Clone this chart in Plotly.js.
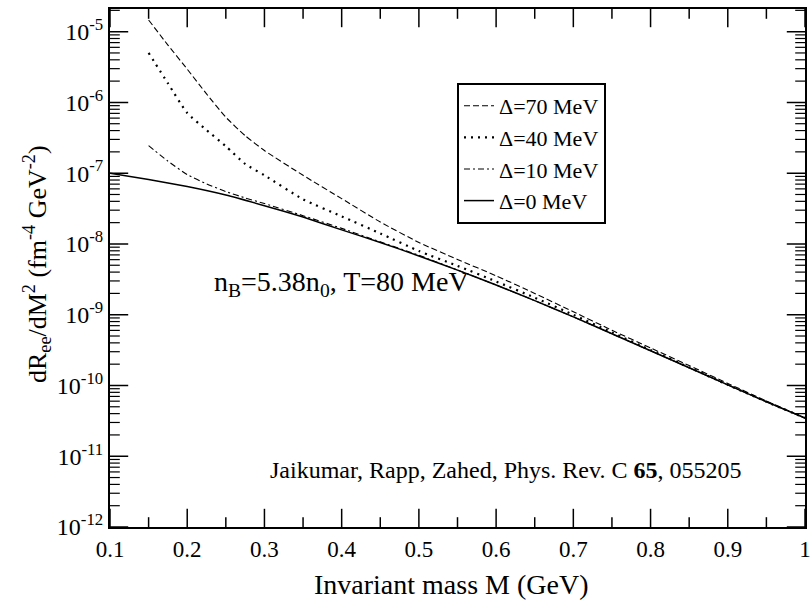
<!DOCTYPE html>
<html>
<head>
<meta charset="utf-8">
<script src="https://cdn.plot.ly/plotly-3.0.1.min.js"></script>
<style>html,body{margin:0;padding:0;background:#fff;}#chart{width:811px;height:602px;}</style>
</head>
<body>
<div id="chart"></div>
<script>
// Invariant mass M (GeV)
const massSolid = [0.10,0.15,0.20,0.25,0.30,0.35,0.40,0.45,0.50,0.55,0.60,0.65,0.70,0.75,0.80,0.85,0.90,0.95,1.00];
const massGap   = [0.15,0.175,0.20,0.225,0.25,0.275,0.30,0.35,0.40,0.45,0.50,0.55,0.60,0.65,0.70,0.75,0.80,0.85,0.90,0.95,1.00];

// dR_ee/dM^2 (fm^-4 GeV^-2)
const rateDelta0  = [1.00e-7,8.13e-8,6.46e-8,4.90e-8,3.47e-8,2.40e-8,1.58e-8,1.05e-8,6.76e-9,4.27e-9,2.63e-9,1.58e-9,9.33e-10,5.37e-10,3.09e-10,1.78e-10,1.02e-10,5.89e-11,3.47e-11];
const rateDelta10 = [2.45e-7,1.48e-7,9.55e-8,7.08e-8,5.50e-8,4.47e-8,3.72e-8,2.51e-8,1.66e-8,1.07e-8,6.92e-9,4.27e-9,2.63e-9,1.58e-9,9.33e-10,5.37e-10,3.09e-10,1.78e-10,1.02e-10,5.89e-11,3.47e-11];
const rateDelta40 = [5.01e-6,1.86e-6,7.08e-7,4.07e-7,2.40e-7,1.35e-7,9.33e-8,4.27e-8,2.45e-8,1.41e-8,7.94e-9,4.90e-9,2.95e-9,1.74e-9,1.00e-9,5.62e-10,3.16e-10,1.80e-10,1.02e-10,5.89e-11,3.47e-11];
const rateDelta70 = [1.46e-5,6.46e-6,2.95e-6,1.32e-6,6.17e-7,3.39e-7,2.09e-7,9.33e-8,4.37e-8,2.04e-8,1.05e-8,6.03e-9,3.55e-9,2.00e-9,1.10e-9,6.03e-10,3.39e-10,1.91e-10,1.07e-10,6.03e-11,3.47e-11];

const seriesNames = ["\u0394=70 MeV","\u0394=40 MeV","\u0394=10 MeV","\u0394=0 MeV"];
const seriesDash  = ["6px,3px","2px,5px","6px,3px,2px,3px","solid"];
const seriesWidth = [1.1, 2.2, 1.1, 1.5];

// tick labels / positions
const xTickVals = [0.1,0.2,0.3,0.4,0.5,0.6,0.7,0.8,0.9,1.0];
const xTickText = ["0.1","0.2","0.3","0.4","0.5","0.6","0.7","0.8","0.9","1"];
const xMinorVals = [0.15,0.25,0.35,0.45,0.55,0.65,0.75,0.85,0.95];
const yTickVals = [1e-12,1e-11,1e-10,1e-9,1e-8,1e-7,1e-6,1e-5];
const yTickText = ["10<sup>-12</sup>","10<sup>-11</sup>","10<sup>-10</sup>","10<sup>-9</sup>","10<sup>-8</sup>","10<sup>-7</sup>","10<sup>-6</sup>","10<sup>-5</sup>"];
const yMinorMantissa = [2,3,4,5,6,7,8,9];
const yMinorVals = [];
yTickVals.forEach(d => yMinorMantissa.forEach(m => { if (m * d < 2.1e-5) yMinorVals.push(m * d); }));

// axis ranges
const xRange = [0.1, 1.0];
const yLogRange = [-12, -4.68];

const serif = "Liberation Serif";
const W = 811, H = 602, ML = 110, MR = 6, MT = 9, MB = 75;
const PW = W - ML - MR, PH = H - MT - MB;

const traces = [
  {x: massGap, y: rateDelta70, name: seriesNames[0]},
  {x: massGap, y: rateDelta40, name: seriesNames[1]},
  {x: massGap, y: rateDelta10, name: seriesNames[2]},
  {x: massSolid, y: rateDelta0, name: seriesNames[3]}
].map((t, i) => Object.assign(t, {
  type: "scatter", mode: "lines", showlegend: true, hoverinfo: "skip",
  line: {color: "#000", width: seriesWidth[i], dash: seriesDash[i], shape: "spline", smoothing: 0.5}
}));

// inside tick marks: line markers centred on the frame, the outer half clipped by the plot area
const yBottom = Math.pow(10, yLogRange[0]), yTopEdge = Math.pow(10, yLogRange[1]);
function tickMarks(xs, ys, symbol, size, width) {
  return {type: "scatter", mode: "markers", x: xs, y: ys, showlegend: false, hoverinfo: "skip",
          cliponaxis: true,
          marker: {symbol: symbol, size: size, color: "#000", line: {color: "#000", width: width}}};
}
[yBottom, yTopEdge].forEach(edge => {
  traces.push(tickMarks(xTickVals, xTickVals.map(() => edge), "line-ns-open", 26, 1.5));
  traces.push(tickMarks(xMinorVals, xMinorVals.map(() => edge), "line-ns-open", 14, 1.5));
});
xRange.forEach(edge => {
  traces.push(tickMarks(yTickVals.map(() => edge), yTickVals, "line-ew-open", 26, 1.5));
  traces.push(tickMarks(yMinorVals.map(() => edge), yMinorVals, "line-ew-open", 14, 1.2));
});

const annotations = [
  {xref: "paper", yref: "paper", x: (212 - ML) / PW, y: (H - MB - 283) / PH, xanchor: "left", yanchor: "middle",
   text: "n<sub>B</sub>=5.38n<sub>0</sub>, T=80 MeV", showarrow: false,
   font: {family: serif, size: 28, color: "#000"}},
  {xref: "paper", yref: "paper", x: (505 - ML) / PW, y: (H - MB - 470) / PH, xanchor: "center", yanchor: "middle",
   text: "Jaikumar, Rapp, Zahed, Phys. Rev. C <b>65</b>, 055205", showarrow: false,
   font: {family: serif, size: 24, color: "#000"}},
  {xref: "paper", yref: "paper", x: (37 - ML) / PW, y: (H - MB - 264) / PH, xanchor: "center", yanchor: "middle",
   textangle: -90, showarrow: false,
   text: "dR<sub>ee</sub>/dM<sup>2</sup> (fm<sup>-4</sup> GeV<sup>-2</sup>)",
   font: {family: serif, size: 26, color: "#000"}},
  {xref: "paper", yref: "paper", x: (451 - ML) / PW, y: (H - MB - 584) / PH, xanchor: "center", yanchor: "middle",
   showarrow: false, text: "Invariant mass M (GeV)",
   font: {family: serif, size: 28, color: "#000"}}
];

const axisCommon = {
  showgrid: false, zeroline: false,
  showline: true, linecolor: "black", linewidth: 2, mirror: true,
  ticks: "", tickmode: "array"
};

const layout = {
  width: W, height: H,
  margin: {l: ML, r: MR, t: MT, b: MB},
  paper_bgcolor: "white", plot_bgcolor: "white",
  font: {family: serif, color: "#000", size: 22},
  showlegend: true,
  legend: {
    x: (457 - ML) / PW, y: (H - MB - 83) / PH, xanchor: "left", yanchor: "top",
    bgcolor: "white", bordercolor: "black", borderwidth: 2,
    font: {family: serif, size: 22, color: "#000"},
    itemwidth: 30, tracegroupgap: 0
  },
  xaxis: Object.assign({}, axisCommon, {
    range: xRange, autorange: false,
    tickvals: xTickVals, ticktext: xTickText,
    tickfont: {family: serif, size: 23, color: "#000"}
  }),
  yaxis: Object.assign({}, axisCommon, {
    type: "log", range: yLogRange, autorange: false,
    tickvals: yTickVals, ticktext: yTickText,
    tickfont: {family: serif, size: 24, color: "#000"}
  }),
  annotations: annotations
};

Plotly.newPlot("chart", traces, layout, {displayModeBar: false});
</script>
</body>
</html>
